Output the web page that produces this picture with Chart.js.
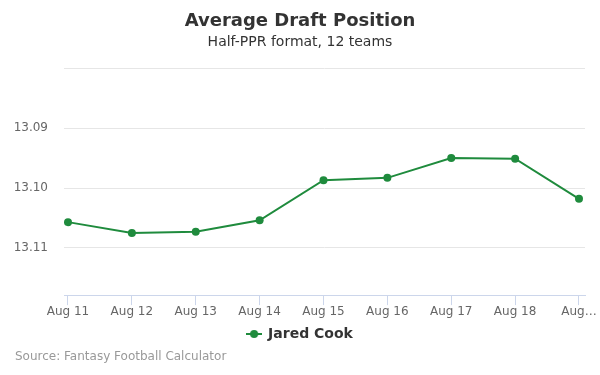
<!DOCTYPE html>
<html lang="en">
<head>
  <meta charset="UTF-8" />
  <title>Average Draft Position</title>
  <script src="https://cdn.jsdelivr.net/npm/chart.js"></script>
  <style>
    body {
      margin: 0;
      background: #fff;
      font-family: "DejaVu Sans", sans-serif;
    }
    #wrap {
      position: relative;
      width: 600px;
      height: 375px;
    }
    #source {
      position: absolute;
      left: 15px;
      top: 349px;
      font-size: 12px;
      color: #999;
    }
  </style>
</head>
<body>
  <div id="wrap">
    <canvas id="adpChart" width="600" height="375"></canvas>
    <div id="source">Source: Fantasy Football Calculator</div>
  </div>

  <script>
    // Данные с картинки
    const dates = ["Aug 11", "Aug 12", "Aug 13", "Aug 14", "Aug 15", "Aug 16", "Aug 17", "Aug 18", "Aug 19"];
    const xLabels = ["Aug 11", "Aug 12", "Aug 13", "Aug 14", "Aug 15", "Aug 16", "Aug 17", "Aug 18", "Aug…"];
    const adp = [13.1057, 13.1075, 13.1073, 13.1054, 13.0987, 13.0983, 13.0950, 13.0951, 13.1018];
    const yTicks = [13.08, 13.09, 13.10, 13.11];
    const yLabels = ["", "13.09", "13.10", "13.11"];
    const playerName = "Jared Cook";
    const lineColor = "#1f8b3d";

    // маркер легенды: линия с точкой
    const legendIcon = document.createElement("canvas");
    legendIcon.width = 16;
    legendIcon.height = 10;
    const ic = legendIcon.getContext("2d");
    ic.strokeStyle = lineColor;
    ic.lineWidth = 2;
    ic.beginPath();
    ic.moveTo(0, 5);
    ic.lineTo(16, 5);
    ic.stroke();
    ic.fillStyle = lineColor;
    ic.beginPath();
    ic.arc(8, 5, 4, 0, Math.PI * 2);
    ic.fill();

    const ctx = document.getElementById("adpChart").getContext("2d");
    new Chart(ctx, {
      type: "line",
      data: {
        labels: dates,
        datasets: [{
          label: playerName,
          data: adp.map((v, i) => ({ x: i, y: v })),
          borderColor: lineColor,
          backgroundColor: lineColor,
          borderWidth: 2,
          pointRadius: 4,
          pointBorderWidth: 0,
          pointHoverRadius: 4,
          fill: false,
          tension: 0
        }]
      },
      options: {
        responsive: false,
        animation: false,
        layout: { padding: { left: 15, right: 15, bottom: 24 } },
        scales: {
          x: {
            type: "linear",
            min: -0.0626,
            max: 8.094,
            afterBuildTicks: (scale) => {
              scale.ticks = dates.map((d, i) => ({ value: i }));
            },
            ticks: {
              color: "#666",
              font: { family: "DejaVu Sans", size: 12 },
              padding: 0,
              maxRotation: 0,
              autoSkip: false,
              callback: (value) => xLabels[value]
            },
            grid: {
              drawOnChartArea: false,
              drawTicks: true,
              tickLength: 10,
              color: "#ccd6eb"
            },
            border: { color: "#ccd6eb", width: 1 }
          },
          y: {
            reverse: true,
            min: 13.08,
            max: 13.1179,
            afterBuildTicks: (scale) => {
              scale.ticks = yTicks.map(v => ({ value: v }));
            },
            afterFit: (scale) => { scale.width = 49; },
            ticks: {
              color: "#666",
              font: { family: "DejaVu Sans", size: 12 },
              padding: 16,
              callback: (value) => {
                const i = yTicks.findIndex(t => Math.abs(t - value) < 1e-6);
                return i >= 0 ? yLabels[i] : "";
              }
            },
            grid: { color: "#e6e6e6", drawTicks: false },
            border: { display: false }
          }
        },
        plugins: {
          title: {
            display: true,
            text: "Average Draft Position",
            color: "#333",
            font: { family: "DejaVu Sans", size: 18, weight: "bold" },
            padding: { top: 11, bottom: 0 }
          },
          subtitle: {
            display: true,
            text: "Half-PPR format, 12 teams",
            color: "#333",
            font: { family: "DejaVu Sans", size: 14 },
            padding: { top: 1, bottom: 18 }
          },
          legend: {
            display: true,
            position: "bottom",
            labels: {
              color: "#333",
              font: { family: "DejaVu Sans", size: 14, weight: "bold" },
              usePointStyle: true,
              pointStyle: legendIcon,
              padding: 7.5
            }
          },
          tooltip: { enabled: false }
        }
      }
    });
  </script>
</body>
</html>
